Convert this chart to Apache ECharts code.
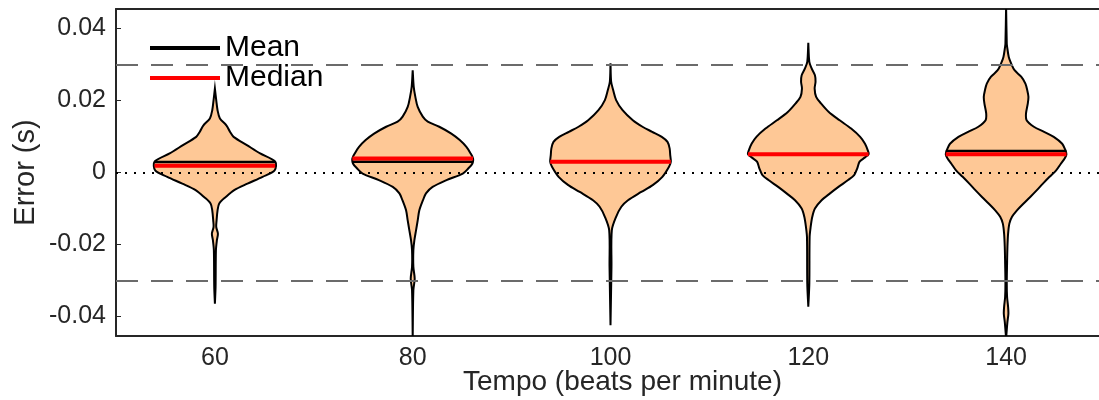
<!DOCTYPE html>
<html>
<head>
<meta charset="utf-8">
<script src="https://cdn.jsdelivr.net/npm/echarts@6/dist/echarts.min.js"></script>
<style>
  html, body { margin: 0; padding: 0; background: #fff; }
  #chart { width: 1099px; height: 400px; }
</style>
</head>
<body>
<div id="chart"></div>
<script>
const tempos = ['60', '80', '100', '120', '140']
const yTicks = [-0.04, -0.02, 0, 0.02, 0.04]
const means = [0.0029, 0.0030, 0.0030, 0.0050, 0.0060]
const medians = [0.0019, 0.0039, 0.0030, 0.0051, 0.0051]
const limitLines = [-0.03, 0.03]

// error levels (s), top to bottom, and relative width of each violin there
const levels60 = [0.0233, 0.0201, 0.0173, 0.0150, 0.0131, 0.0113, 0.0099, 0.0076, 0.0053, 0.0030, 0.0006, -0.0012, -0.0031, -0.0049, -0.0068, -0.0086, -0.0105, -0.0133, -0.0151, -0.0170, -0.0188, -0.0216, -0.0318, -0.0364]
const density60 = [0, 0.022, 0.044, 0.083, 0.19, 0.25, 0.31, 0.53, 0.75, 1, 0.99, 0.79, 0.54, 0.32, 0.18, 0.072, 0.044, 0.028, 0.022, 0.05, 0.033, 0.017, 0.011, 0]

const levels80 = [0.0284, 0.0238, 0.0210, 0.0182, 0.0155, 0.0141, 0.0127, 0.0108, 0.0090, 0.0071, 0.0053, 0.0039, 0.0025, 0.0011, -0.0003, -0.0021, -0.0040, -0.0058, -0.0077, -0.0105, -0.0133, -0.0160, -0.0188, -0.0216, -0.0262, -0.0295, -0.0327, -0.0457]
const density80 = [0, 0.017, 0.044, 0.083, 0.167, 0.25, 0.44, 0.64, 0.78, 0.89, 0.96, 1, 0.99, 0.92, 0.83, 0.56, 0.33, 0.22, 0.17, 0.11, 0.083, 0.056, 0.028, 0.011, 0.011, 0.033, 0.011, 0]

const levels100 = [0.0303, 0.0252, 0.0229, 0.0201, 0.0173, 0.0145, 0.0127, 0.0113, 0.0099, 0.0085, 0.0067, 0.0048, 0.0030, 0.0016, -0.0012, -0.0035, -0.0054, -0.0077, -0.0095, -0.0123, -0.0160, -0.0262, -0.0424]
const density100 = [0, 0.011, 0.044, 0.093, 0.20, 0.37, 0.53, 0.69, 0.85, 0.945, 0.98, 0.99, 1, 0.97, 0.86, 0.70, 0.51, 0.29, 0.18, 0.093, 0.022, 0.016, 0]

const levels120 = [0.0360, 0.0307, 0.0289, 0.0270, 0.0252, 0.0233, 0.0210, 0.0192, 0.0168, 0.0145, 0.0122, 0.0099, 0.0080, 0.0064, 0.0051, 0.0042, 0.0030, 0.0011, -0.0007, -0.0021, -0.0040, -0.0058, -0.0077, -0.0100, -0.0123, -0.0151, -0.0179, -0.0308, -0.0373]
const density120 = [0, 0.017, 0.055, 0.11, 0.12, 0.105, 0.13, 0.21, 0.34, 0.52, 0.71, 0.86, 0.94, 0.98, 1, 0.94, 0.85, 0.81, 0.76, 0.66, 0.50, 0.36, 0.22, 0.11, 0.066, 0.039, 0.022, 0.017, 0]

const levels140 = [0.0460, 0.0358, 0.0349, 0.0321, 0.0303, 0.0284, 0.0266, 0.0247, 0.0229, 0.0210, 0.0192, 0.0164, 0.0145, 0.0127, 0.0113, 0.0099, 0.0080, 0.0067, 0.0051, 0.0039, 0.0025, 0.0006, -0.0012, -0.0031, -0.0049, -0.0068, -0.0086, -0.0105, -0.0123, -0.0142, -0.0170, -0.0207, -0.0253, -0.0308, -0.0345, -0.0373, -0.0392, -0.0415, -0.0460]
const density140 = [0, 0.011, 0.017, 0.044, 0.083, 0.14, 0.25, 0.32, 0.35, 0.37, 0.36, 0.33, 0.34, 0.46, 0.63, 0.79, 0.93, 0.97, 1, 0.97, 0.91, 0.83, 0.72, 0.61, 0.51, 0.40, 0.29, 0.18, 0.098, 0.054, 0.033, 0.022, 0.016, 0.011, 0.016, 0.033, 0.038, 0.022, 0]

const violinLevels = [levels60, levels80, levels100, levels120, levels140]
const violinDensity = [density60, density80, density100, density120, density140]

const halfWidth = 0.305 // widest point, as a share of one category
const axisColor = '#262626'
const font = 'Liberation Sans'

function violinItem (params, api) {
  const i = api.value(0)
  const band = api.size([1, 0])[0]
  const right = []
  const left = []
  violinLevels[i].forEach((y, k) => {
    const p = api.coord([i, y])
    const w = violinDensity[i][k] * halfWidth * band
    right.push([p[0] + w, p[1]])
    left.unshift([p[0] - w, p[1]])
  })
  return {
    type: 'polygon',
    shape: { points: right.concat(left), smooth: 0.3 },
    style: { fill: '#fec896', stroke: '#000', lineWidth: 2 }
  }
}

function levelItem (color, width) {
  return function (params, api) {
    const p = api.coord([api.value(0), api.value(1)])
    const w = halfWidth * api.size([1, 0])[0]
    return {
      type: 'line',
      shape: { x1: p[0] - w, y1: p[1], x2: p[0] + w, y2: p[1] },
      style: { stroke: color, lineWidth: width }
    }
  }
}

const chart = echarts.init(document.getElementById('chart'))
const option = {
  animation: false,
  textStyle: { fontFamily: font },
  grid: { left: 116, top: 9, width: 989, height: 327, outerBoundsMode: 'none' },
  legend: {
    data: [{ name: 'Mean', icon: 'rect' }, { name: 'Median', icon: 'rect' }],
    orient: 'vertical',
    left: 150,
    top: 33,
    padding: 0,
    itemGap: 0,
    itemWidth: 70,
    itemHeight: 4,
    selectedMode: false,
    textStyle: { fontSize: 30, color: '#000', lineHeight: 30, fontFamily: font }
  },
  xAxis: [{
    type: 'category',
    data: tempos,
    position: 'bottom',
    axisLine: { onZero: false, lineStyle: { color: axisColor, width: 2 } },
    axisTick: { inside: true, alignWithLabel: true, length: 5, lineStyle: { color: axisColor } },
    axisLabel: { fontSize: 25, color: axisColor, margin: 10 },
    name: 'Tempo (beats per minute)',
    nameLocation: 'middle',
    nameGap: 32,
    nameMoveOverlap: false,
    nameTextStyle: { fontSize: 28, color: axisColor, verticalAlign: 'top', padding: [0, 0, 0, 24] }
  }, {
    type: 'category',
    data: tempos,
    position: 'top',
    axisLine: { onZero: false, lineStyle: { color: axisColor, width: 2 } },
    axisTick: { inside: true, alignWithLabel: true, length: 5, lineStyle: { color: axisColor } },
    axisLabel: { show: false }
  }],
  yAxis: {
    type: 'value',
    min: -0.0454,
    max: 0.0454,
    axisLine: { show: true, onZero: false, lineStyle: { color: axisColor, width: 2 } },
    axisTick: { show: true, inside: true, length: 5, customValues: yTicks, lineStyle: { color: axisColor } },
    axisLabel: { fontSize: 25, color: axisColor, margin: 10, customValues: yTicks },
    splitLine: { show: false },
    name: 'Error (s)',
    nameLocation: 'middle',
    nameRotate: 90,
    nameGap: 76,
    nameMoveOverlap: false,
    nameTextStyle: { fontSize: 29, color: axisColor }
  },
  series: [{
    name: 'violins',
    type: 'custom',
    clip: true,
    z: 2,
    renderItem: violinItem,
    data: tempos.map((t, i) => [i])
  }, {
    name: 'Mean',
    type: 'custom',
    z: 3,
    itemStyle: { color: '#000' },
    renderItem: levelItem('#000', 2.5),
    data: means.map((m, i) => [i, m])
  }, {
    name: 'Median',
    type: 'custom',
    z: 4,
    itemStyle: { color: '#ff0000' },
    renderItem: levelItem('#ff0000', 4),
    data: medians.map((m, i) => [i, m])
  }, {
    name: 'limits',
    type: 'line',
    z: 5,
    data: [],
    markLine: {
      silent: true,
      symbol: 'none',
      label: { show: false },
      emphasis: { disabled: true },
      data: limitLines.map(v => ({
        yAxis: v,
        lineStyle: { color: '#6b6b6b', width: 2, type: [22, 13] }
      })).concat([{
        yAxis: 0,
        lineStyle: { color: '#000', width: 2, type: [2, 7] }
      }])
    }
  }]
}
chart.setOption(option)
</script>
</body>
</html>
